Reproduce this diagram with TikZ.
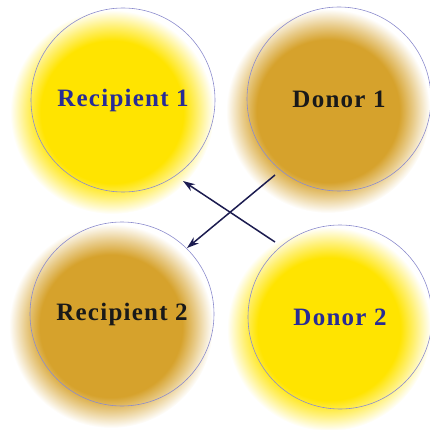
\documentclass[tikz,border=0pt]{standalone}
\usepackage{fontspec}
\setmainfont{Liberation Serif}
\usetikzlibrary{arrows.meta,calc}
\definecolor{cyel}{RGB}{255,228,0}
\definecolor{cbrn}{RGB}{214,162,44}
\definecolor{cline}{RGB}{140,140,205}
\definecolor{cblue}{RGB}{40,44,150}
\definecolor{carrow}{RGB}{28,28,80}
\pgfdeclareradialshading{glowyel}{\pgfpoint{0bp}{0bp}}{color(0bp)=(cyel); color(17.5bp)=(cyel); color(21bp)=(cyel!55); color(25bp)=(white); color(50bp)=(white)}
\pgfdeclareradialshading{glowbrn}{\pgfpoint{0bp}{0bp}}{color(0bp)=(cbrn); color(17.5bp)=(cbrn); color(21bp)=(cbrn!55); color(25bp)=(white); color(50bp)=(white)}
\tikzset{
  ring/.style={circle, draw=cline, line width=0.6pt, minimum size=184pt, inner sep=0pt,
    font=\fontsize{25}{29}\selectfont\bfseries\addfontfeature{LetterSpace=5}},
  bluetext/.style={text=cblue},
  blacktext/.style={text=black!90},
  link/.style={draw=carrow, line width=1.5pt, -{Stealth[length=12pt,width=8pt]}}
}
\begin{document}
\begin{tikzpicture}[x=1pt,y=-1pt]
\useasboundingbox (0,0) rectangle (430,430);
% glows
\shade[shading=glowyel] (112,112) circle (102);
\shade[shading=glowbrn] (328,111) circle (102);
\shade[shading=glowbrn] (111,326) circle (102);
\shade[shading=glowyel] (329,329) circle (102);
% rings with labels
\node[ring,bluetext]  (r1) at (123,100) {Recipient 1};
\node[ring,blacktext] (d1) at (339,99) {Donor 1};
\node[ring,blacktext] (r2) at (122,314) {Recipient 2};
\node[ring,bluetext]  (d2) at (340,317) {Donor 2};
% connector end points
\coordinate (d1out) at ($(d1.center)+(-64,76)$);
\coordinate (d2out) at ($(d2.center)+(-65,-75)$);
\coordinate (r1in) at ($(r1.center)+(60,81)$);
\coordinate (r2in) at ($(r2.center)+(65,-66)$);
\draw[link] (d2out) -- (r1in);
\draw[link] (d1out) -- (r2in);
\end{tikzpicture}
\end{document}
